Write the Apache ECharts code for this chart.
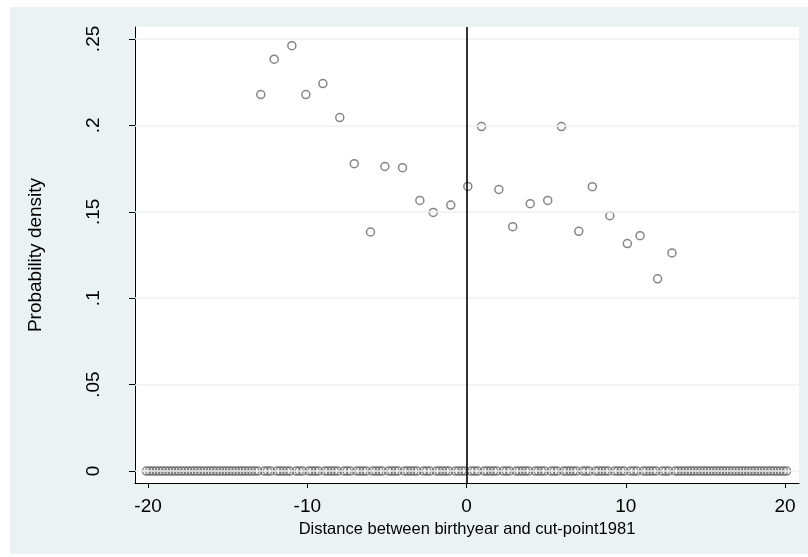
<!DOCTYPE html>
<html>
<head>
<meta charset="utf-8">
<script src="https://cdn.jsdelivr.net/npm/echarts@6/dist/echarts.min.js"></script>
<style>html,body{margin:0;padding:0;background:#fff;}#c{width:808px;height:557px;}</style>
</head>
<body>
<div id="c"></div>
<script>
// density points at each birth-year distance (x)
var densX = [-12.92,-12.08,-10.97,-10.09,-9.02,-7.96,-7.05,-6.03,-5.13,-4.02,-2.93,-2.09,-0.99,0.08,0.94,2.03,2.9,4.0,5.1,5.96,7.05,7.9,9.0,10.1,10.9,12.0,12.9];
var densY = [0.2178,0.2383,0.2461,0.2178,0.2242,0.2045,0.1778,0.1383,0.1762,0.1755,0.1566,0.1496,0.1539,0.1647,0.1993,0.1629,0.1414,0.1547,0.1566,0.1993,0.1387,0.1645,0.1477,0.1316,0.1362,0.1112,0.1262];
// empty bins (density 0)
var zeroX = [-20.1,-19.9,-19.7,-19.5,-19.3,-19.1,-18.9,-18.7,-18.5,-18.3,-18.1,-17.9,-17.7,-17.5,-17.3,-17.1,-16.9,-16.7,-16.5,-16.3,-16.1,-15.9,-15.7,-15.5,-15.3,-15.1,-14.9,-14.7,-14.5,-14.3,-14.1,-13.9,-13.7,-13.5,-13.3,-13.1,
-12.7,-12.5,-12.3,-11.9,-11.7,-11.5,-11.3,-11.1,-10.7,-10.5,-10.3,-9.9,-9.7,-9.5,-9.3,-8.9,-8.7,-8.5,-8.3,-8.1,-7.7,-7.5,-7.3,-6.9,-6.7,-6.5,-6.3,-5.9,-5.7,-5.5,-5.3,-4.9,-4.7,-4.5,-4.3,-3.9,-3.7,-3.5,-3.3,-3.1,-2.7,-2.5,-2.3,-1.9,-1.7,-1.5,-1.3,-1.1,-0.7,-0.5,-0.3,-0.1,
0.3,0.5,0.7,1.1,1.3,1.5,1.7,1.9,2.3,2.5,2.7,3.1,3.3,3.5,3.7,3.9,4.3,4.5,4.7,4.9,5.3,5.5,5.7,6.1,6.3,6.5,6.7,6.9,7.3,7.5,7.7,8.1,8.3,8.5,8.7,8.9,9.3,9.5,9.7,9.9,10.3,10.5,10.7,11.1,11.3,11.5,11.7,11.9,12.3,12.5,12.7,
13.1,13.3,13.5,13.7,13.9,14.1,14.3,14.5,14.7,14.9,15.1,15.3,15.5,15.7,15.9,16.1,16.3,16.5,16.7,16.9,17.1,17.3,17.5,17.7,17.9,18.1,18.3,18.5,18.7,18.9,19.1,19.3,19.5,19.7,19.9,20.1];
var zeroY = 0;
var xTicks = [-20,-10,0,10,20];
var yTicks = [0,0.05,0.1,0.15,0.2,0.25];
var yTickLabels = ['0','.05','.1','.15','.2','.25'];
var cutoff = 0;
var xTitle = 'Distance between birthyear and cut-point1981';
var yTitle = 'Probability density';

var FONT = '"Liberation Sans",Arial,sans-serif';
var chart = echarts.init(document.getElementById('c'), null, {renderer:'canvas'});
var pts = densX.map(function(x,i){return [x,densY[i]];});
var zpts = zeroX.map(function(x){return [x,zeroY];});
var marker = {color:'rgba(0,0,0,0)', borderColor:'#676767', borderWidth:1.5};
chart.setOption({
  animation:false,
  graphic:[{type:'rect', shape:{x:10,y:7,width:798,height:547}, style:{fill:'#eaf2f3'}, z:-10, silent:true}],
  grid:{left:135, right:9, top:27, bottom:74, show:true, backgroundColor:'#fff', borderWidth:0},
  xAxis:{type:'value', min:-20.82, max:20.88,
    name:xTitle, nameLocation:'middle', nameGap:29,
    nameTextStyle:{fontFamily:FONT, fontSize:16.5, color:'#000'},
    axisLine:{show:true, onZero:false, lineStyle:{color:'#000', width:1}},
    axisTick:{show:true, length:5, customValues:xTicks, lineStyle:{color:'#000'}},
    axisLabel:{customValues:xTicks, margin:14, fontFamily:FONT, fontSize:19, color:'#000'},
    splitLine:{show:false}},
  yAxis:{type:'value', min:-0.0069, max:0.2569,
    name:yTitle, nameLocation:'middle', nameGap:90,
    nameTextStyle:{fontFamily:FONT, fontSize:19, color:'#000'},
    axisLine:{show:true, onZero:false, lineStyle:{color:'#000', width:1}},
    axisTick:{show:true, length:6, customValues:yTicks, lineStyle:{color:'#000'}},
    axisLabel:{customValues:yTicks, rotate:90, margin:32, fontFamily:FONT, fontSize:19, color:'#000',
      formatter:function(v){var i=yTicks.indexOf(+v); return i>=0?yTickLabels[i]:'';}},
    splitLine:{show:false}},
  series:[
    {type:'scatter', data:[], z:1, silent:true,
      markLine:{silent:true, symbol:'none', label:{show:false},
        lineStyle:{color:'#eaf2f3', width:1.6, type:'solid'},
        data:yTicks.map(function(v){return {yAxis:v};})}},
    {type:'scatter', data:[], z:2, silent:true,
      markLine:{silent:true, symbol:'none', label:{show:false},
        lineStyle:{color:'#000', width:1.6, type:'solid'},
        data:[{xAxis:cutoff}]}},
    {type:'scatter', data:zpts, symbol:'circle', symbolSize:8, itemStyle:marker, z:3, silent:true},
    {type:'scatter', data:pts, symbol:'circle', symbolSize:8, itemStyle:marker, z:3, silent:true}
  ]
});
</script>
</body>
</html>
